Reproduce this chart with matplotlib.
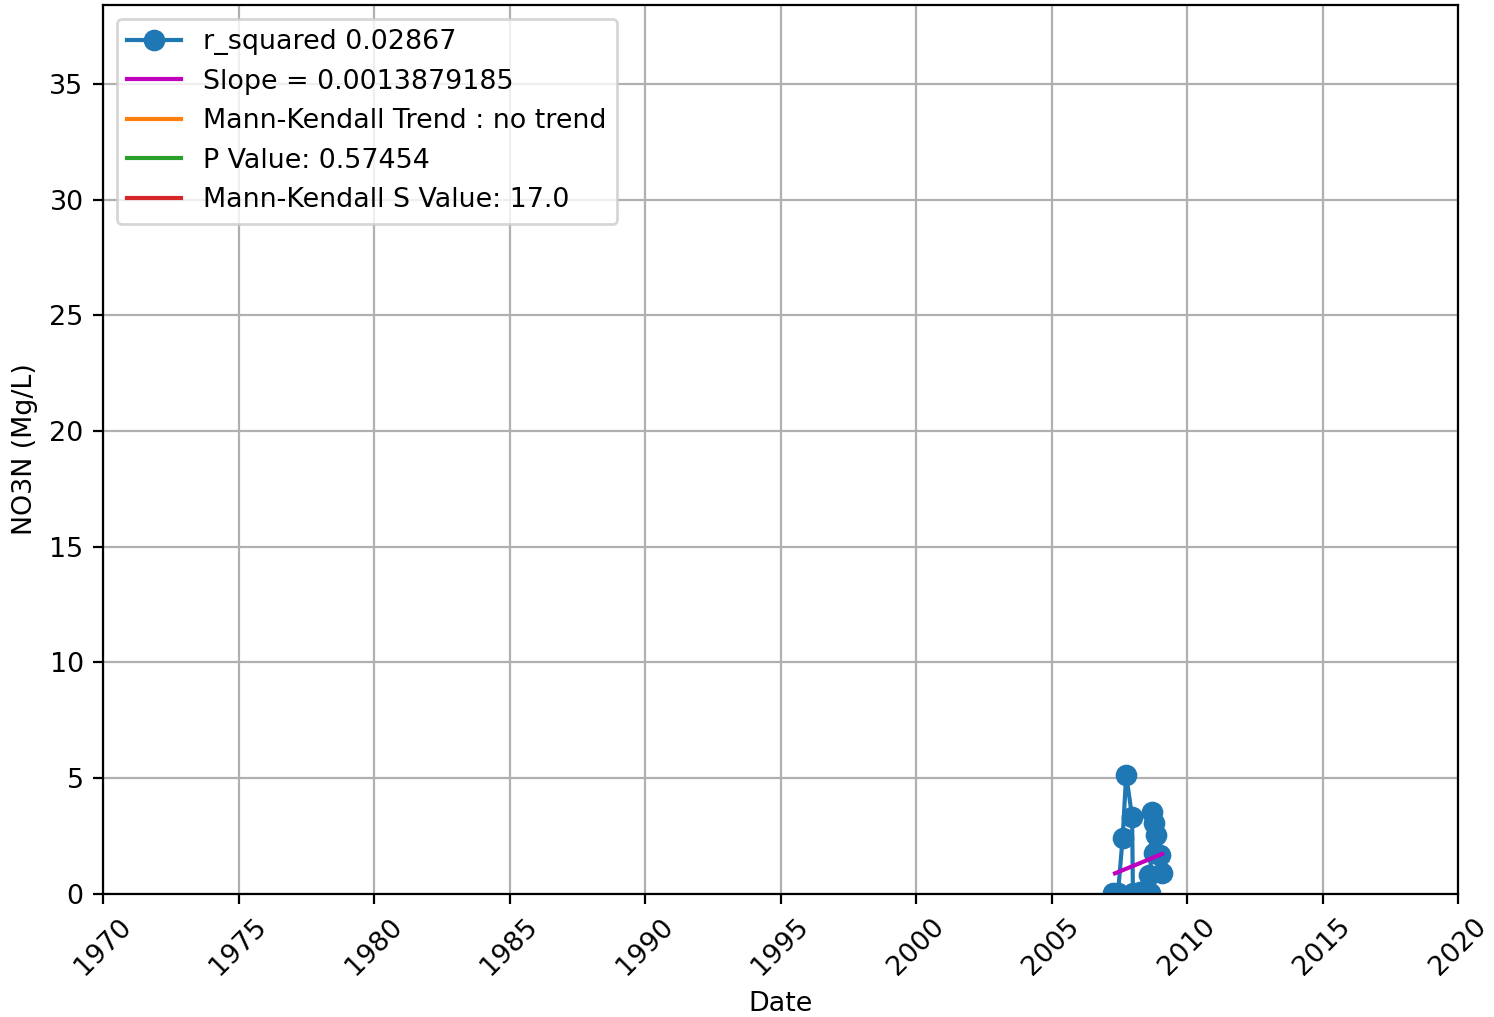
import matplotlib
matplotlib.use("Agg")
import matplotlib.pyplot as plt
import matplotlib.dates as mdates
import numpy as np
import datetime as dt

# Decimal-year sample dates and NO3N values (mg/L)
years = [2007.28, 2007.45, 2007.62, 2007.75, 2007.97, 2008.00, 2008.25, 2008.50,
         2008.58, 2008.62, 2008.71, 2008.78, 2008.84, 2008.76, 2008.98, 2009.06]
values = [0.05, 0.05, 2.41, 5.14, 3.34, 0.05, 0.08, 0.08,
          0.82, 0.05, 3.56, 3.05, 2.55, 1.76, 1.69, 0.89]
order = np.argsort(years, kind="stable")
years = [years[i] for i in order]
values = [values[i] for i in order]

trend_years = [2007.34, 2009.08]
trend_values = [0.89, 1.73]

legend_labels = ["r_squared 0.02867", "Slope = 0.0013879185",
                 "Mann-Kendall Trend : no trend", "P Value: 0.57454",
                 "Mann-Kendall S Value: 17.0"]

def to_date(y):
    yr = int(y)
    start = dt.datetime(yr, 1, 1)
    end = dt.datetime(yr + 1, 1, 1)
    return start + (end - start) * (y - yr)

dates = [to_date(y) for y in years]
tdates = [to_date(y) for y in trend_years]

plt.rcParams['font.size'] = 9.7
fig = plt.figure(figsize=(7.47, 5.085), dpi=200)
ax = fig.add_axes([0.069, 0.121, 0.907, 0.874])

ax.plot(dates, values, '-o', color='#1f77b4', lw=1.5, ms=6.8, label=legend_labels[0])
ax.plot(tdates, trend_values, color='m', lw=1.5, label=legend_labels[1])
ax.plot([], [], color='#ff7f0e', label=legend_labels[2])
ax.plot([], [], color='#2ca02c', label=legend_labels[3])
ax.plot([], [], color='#d62728', label=legend_labels[4])

ax.set_xlim(dt.datetime(1970, 1, 1), dt.datetime(2020, 1, 1))
ax.set_ylim(0, 38.4)
ax.xaxis.set_major_locator(mdates.YearLocator(5))
ax.xaxis.set_major_formatter(mdates.DateFormatter('%Y'))
plt.setp(ax.get_xticklabels(), rotation=45)
ax.grid(True, color='#b0b0b0', lw=0.8)
ax.set_xlabel('Date')
ax.set_ylabel('NO3N (Mg/L)')
ax.legend(loc='upper left')

fig.savefig('out.png', dpi=200)
